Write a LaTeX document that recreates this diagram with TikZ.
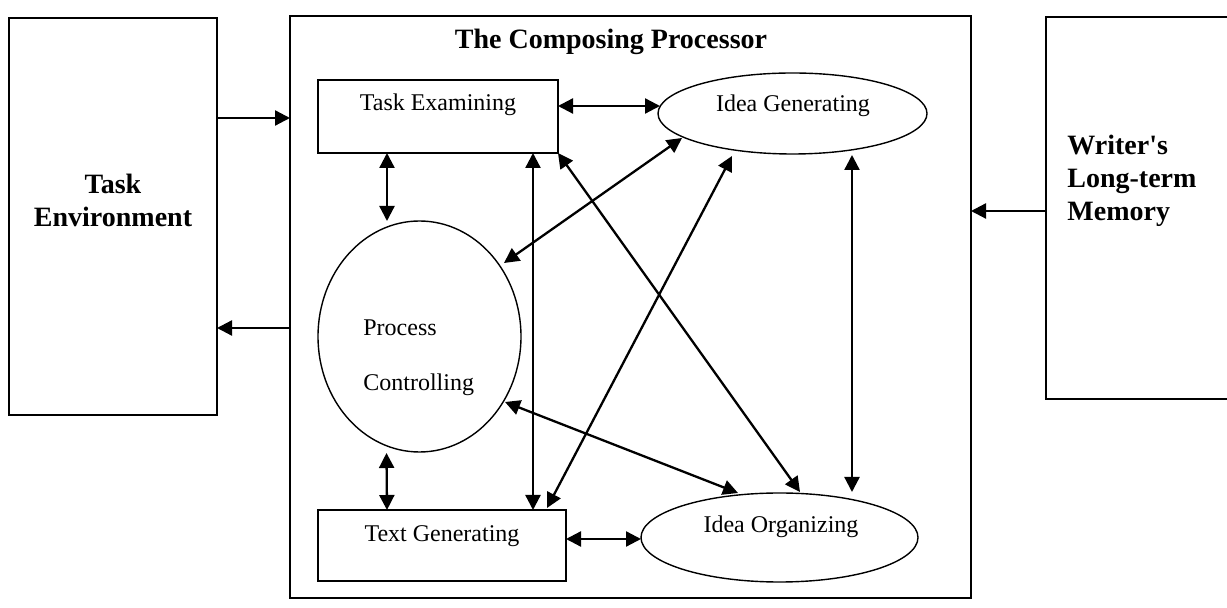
\documentclass[tikz,border=0pt]{standalone}
\usepackage{fontspec}
\setmainfont{Liberation Serif}
\usepackage{tikz}
\usetikzlibrary{positioning, calc, shapes, arrows.meta}

\begin{document}
\begin{tikzpicture}[x=0.5pt, y=-0.5pt,
        box/.style={draw, line width=0.7pt, inner sep=0pt, outer sep=0pt},
        oval/.style={box, ellipse},
        arr/.style={line width=1.15pt, -{Triangle[length=7.5pt,width=7.5pt]}},
        darr/.style={line width=1.15pt, {Triangle[length=7.5pt,width=7.5pt]}-{Triangle[length=7.5pt,width=7.5pt]}},
        lbl/.style={font=\fontsize{12}{14}\selectfont, inner sep=0pt},
        blbl/.style={font=\fontsize{14}{16.5}\selectfont\bfseries, inner sep=0pt}]
            \useasboundingbox (0,0) rectangle (1227,608);
            % outer boxes
            \node[box, minimum width=104pt, minimum height=198.5pt] (tenv) at (113,216.5) {};
            \node[box, minimum width=340.5pt, minimum height=291pt] (proc) at (630.5,307) {};
            \node[box, minimum width=107pt, minimum height=191pt] (ltm) at (1153,208) {};
            \node[blbl, align=center] (tenvlbl) at (113,200) {Task\\Environment};
            \node[blbl] (proclbl) at (611,42) {The Composing Processor};
            \node[blbl, align=left, anchor=west] (ltmlbl) at (1067,181) {Writer\textquotesingle s\\Long-term\\Memory};
            % inner parts
            \node[box, minimum width=120pt, minimum height=36.5pt] (texam) at (438,116.5) {};
            \node[oval, minimum width=134.5pt, minimum height=40.5pt] (igen) at (792.5,113.5) {};
            \node[oval, minimum width=101.5pt, minimum height=115.5pt] (pctrl) at (419.5,336.5) {};
            \node[box, minimum width=124pt, minimum height=35.5pt] (tgen) at (442,545.5) {};
            \node[oval, minimum width=138.5pt, minimum height=44.5pt] (iorg) at (779.5,537.5) {};
            \node[lbl] (texamlbl) at (438,105) {Task Examining};
            \node[lbl] (igenlbl) at (793,106) {Idea Generating};
            \node[lbl, align=left, anchor=west, font=\fontsize{12}{27.5}\selectfont] (pctrllbl) at (363,358) {Process\\Controlling};
            \node[lbl] (tgenlbl) at (442,536) {Text Generating};
            \node[lbl] (iorglbl) at (781,527) {Idea Organizing};
            % environment and memory
            \draw[arr] ($(tenv.east)+(0,-98.5)$) -- ($(proc.west)+(0,-189)$);
            \draw[arr] ($(proc.west)+(0,21)$) -- ($(tenv.east)+(0,111.5)$);
            \draw[arr] ($(ltm.west)+(0,3)$) -- ($(proc.east)+(0,-96)$);
            % processes
            \draw[darr] ($(texam.east)+(0,-10.5)$) -- ($(igen.west)+(2,-7.5)$);
            \draw[darr] ($(texam.south)+(-51,0)$) -- ($(pctrl.north)+(-32.5,0)$);
            \draw[darr] ($(pctrl.south)+(-33,1)$) -- ($(tgen.north)+(-55,0)$);
            \draw[darr] ($(texam.south)+(95,0)$) -- ($(tgen.north)+(91,0)$);
            \draw[darr] ($(igen.center)+(-110.5,24.5)$) -- ($(pctrl.center)+(84.5,-73.5)$);
            \draw[darr] (texam.south east) -- ($(iorg.center)+(20.5,-45.5)$);
            \draw[darr] ($(tgen.north)+(105,-2)$) -- ($(igen.center)+(-60.5,42.5)$);
            \draw[darr] ($(pctrl.center)+(85.5,65.5)$) -- ($(iorg.center)+(-41.5,-44.5)$);
            \draw[darr] ($(igen.south)+(59.5,1)$) -- ($(iorg.north)+(72.5,-1)$);
            \draw[darr] ($(tgen.east)+(0,-6.5)$) -- ($(iorg.west)+(0,1.5)$);
        \end{tikzpicture}
\end{document}
